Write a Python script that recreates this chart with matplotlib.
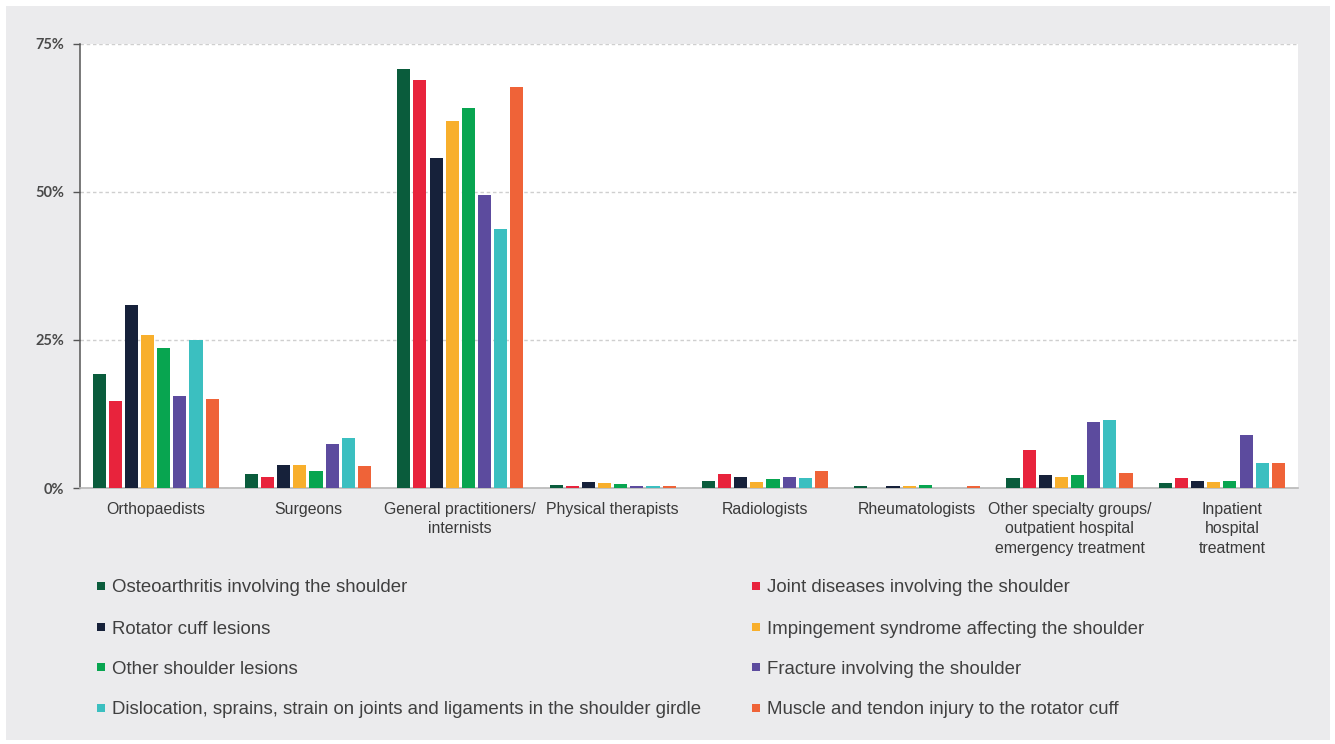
import matplotlib
matplotlib.use("Agg")
import matplotlib.pyplot as plt
from matplotlib.patches import Rectangle
from matplotlib.transforms import ScaledTranslation
import numpy as np

categories = [
    "Orthopaedists",
    "Surgeons",
    "General practitioners/\ninternists",
    "Physical therapists",
    "Radiologists",
    "Rheumatologists",
    "Other specialty groups/\noutpatient hospital\nemergency treatment",
    "Inpatient\nhospital\ntreatment",
]

series_names = [
    "Osteoarthritis involving the shoulder",
    "Joint diseases involving the shoulder",
    "Rotator cuff lesions",
    "Impingement syndrome affecting the shoulder",
    "Other shoulder lesions",
    "Fracture involving the shoulder",
    "Dislocation, sprains, strain on joints and ligaments in the shoulder girdle",
    "Muscle and tendon injury to the rotator cuff",
]

# share of cases (%) per diagnosis group, one value per category
osteoarthritis = [19.2, 2.4, 70.7, 0.45, 1.1, 0.4, 1.75, 0.9]
joint_diseases = [14.7, 1.9, 68.9, 0.4, 2.3, 0.0, 6.4, 1.75]
rotator_cuff = [30.9, 3.8, 55.7, 1.0, 1.9, 0.4, 2.15, 1.25]
impingement = [25.8, 3.8, 61.9, 0.85, 1.05, 0.4, 1.9, 1.05]
other_lesions = [23.7, 2.8, 64.2, 0.75, 1.6, 0.5, 2.2, 1.1]
fracture = [15.6, 7.4, 49.5, 0.35, 1.9, 0.0, 11.1, 9.0]
dislocation = [25.0, 8.4, 43.7, 0.4, 1.75, 0.0, 11.5, 4.3]
muscle_tendon = [15.1, 3.7, 67.6, 0.4, 2.9, 0.35, 2.5, 4.3]

series_values = [osteoarthritis, joint_diseases, rotator_cuff, impingement,
                 other_lesions, fracture, dislocation, muscle_tendon]

colors = ["#0a5c3c", "#e8233c", "#16213a", "#f8af2c",
          "#08a550", "#5c4b9e", "#3bbfc0", "#ef6338"]

y_ticks = [0, 25, 50, 75]
y_tick_labels = ["0%", "25%", "50%", "75%"]

W, H = 1335, 744
fig = plt.figure(figsize=(W / 100, H / 100), dpi=100, facecolor="white")

# grey panel behind the chart
fig.patches.append(Rectangle((6 / W, 4 / H), 1324 / W, 734 / H,
                             transform=fig.transFigure, facecolor="#ebebed",
                             edgecolor="none", zorder=-5))

ax = fig.add_axes([79.5 / W, 1 - 488 / H, (1298 - 79.5) / W, (488 - 43.5) / H])
ax.set_zorder(1)
ax.set_facecolor("white")

x = np.arange(len(categories))
slot = 0.106
bar_w = 0.086
n = len(series_values)
for i, (vals, col) in enumerate(zip(series_values, colors)):
    ax.bar(x + (i - (n - 1) / 2) * slot, vals, width=bar_w, color=col,
           linewidth=0, zorder=3)

ax.set_xlim(-0.5, len(categories) - 0.5)
ax.set_ylim(0, 75)

ax.set_yticks(y_ticks)
ax.set_yticklabels(y_tick_labels, fontfamily="Lato", fontweight="bold",
                   fontsize=10.5, color="#4a4a4a")
ax.tick_params(axis="y", length=5, width=1, color="#555555", pad=6)

ax.set_xticks(x)
ax.set_xticklabels(categories, fontfamily="Liberation Sans", fontsize=11.4,
                   color="#3a3a3a", linespacing=1.38, va="top")
ax.tick_params(axis="x", length=0, pad=10)

# the last category label sits slightly right of its group centre
last = ax.get_xticklabels()[-1]
last.set_transform(last.get_transform()
                   + ScaledTranslation(10 / 100, 0, fig.dpi_scale_trans))

ax.yaxis.grid(True, linestyle=(0, (2.5, 2)), color="#cfcfcf", linewidth=1, zorder=0)
ax.set_axisbelow(True)

for side in ["top", "right"]:
    ax.spines[side].set_visible(False)
ax.spines["left"].set_color("#555555")
ax.spines["left"].set_linewidth(1.1)
ax.spines["bottom"].set_color("#b8b8b8")
ax.spines["bottom"].set_linewidth(1.2)

# legend: two columns, four rows, filled row by row
col_marker_x = [97, 752]
row_y = [586, 627, 667, 708]
sq = 8
for i, (name, col) in enumerate(zip(series_names, colors)):
    r, c = divmod(i, 2)
    mx, my = col_marker_x[c], row_y[r]
    fig.patches.append(Rectangle((mx / W, 1 - (my + sq / 2) / H), sq / W, sq / H,
                                 transform=fig.transFigure, facecolor=col,
                                 edgecolor="none", zorder=2))
    fig.text((mx + sq + 7) / W, 1 - (my + 6.5) / H, name,
             fontfamily="Liberation Sans", fontsize=13.45, color="#404040",
             va="baseline", ha="left")

fig.savefig("out.png", dpi=100, facecolor=fig.get_facecolor())
